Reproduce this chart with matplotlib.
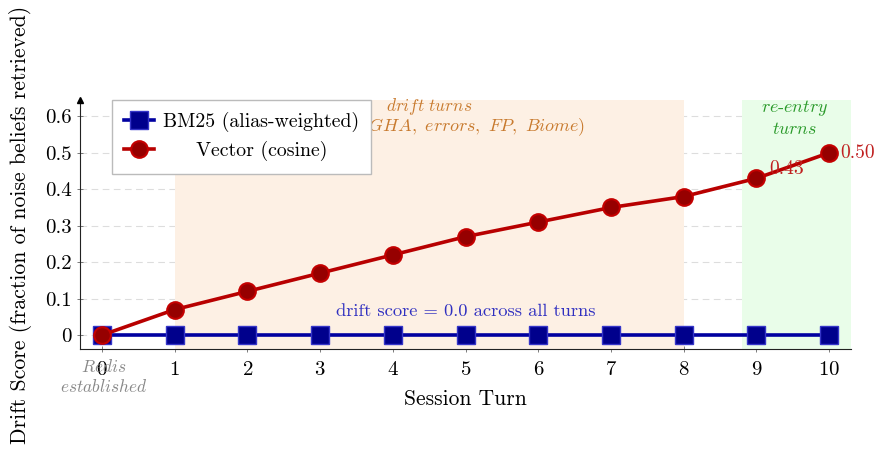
import numpy as np
import matplotlib
matplotlib.use("Agg")
from matplotlib import pyplot as plt

plt.rcParams['font.family'] = 'serif'
plt.rcParams['font.serif'] = ['cmr10']
plt.rcParams['mathtext.fontset'] = 'cm'
plt.rcParams['axes.formatter.use_mathtext'] = True

turns = [0, 1, 2, 3, 4, 5, 6, 7, 8, 9, 10]
bm25 = [0, 0, 0, 0, 0, 0, 0, 0, 0, 0, 0]
vector = [0.0, 0.07, 0.12, 0.17, 0.22, 0.27, 0.31, 0.35, 0.38, 0.43, 0.50]
yticks = [0, 0.1, 0.2, 0.3, 0.4, 0.5, 0.6]
ytick_labels = ['0', '0.1', '0.2', '0.3', '0.4', '0.5', '0.6']
drift_span = (1, 8)
reentry_span = (8.8, 10.3)

fig = plt.figure(figsize=(8.81, 4.5), dpi=100)
ax = fig.add_axes([0.0908, 0.2244, 0.8752, 0.5536])
ax.set_xlim(-0.3, 10.3)
ax.set_ylim(-0.038, 0.645)

# shaded regions (drawn over the bottom spine like the original)
ax.axvspan(*drift_span, ymin=0, ymax=1, color='#fdf0e4', zorder=2.5, lw=0)
ax.axvspan(*reentry_span, ymin=0, ymax=1, color='#e9fde9', zorder=2.5, lw=0)

for y in yticks:
    ax.axhline(y, color='#dddddd', lw=0.8, ls=(0, (6, 4)), zorder=1)

ax.plot(turns, bm25, color='#0000a0', lw=2.6, marker='s', markersize=12.5,
        markerfacecolor='#00008c', markeredgecolor='#3535c8', markeredgewidth=1.0,
        label='BM25 (alias-weighted)', zorder=4)
ax.plot(turns, vector, color='#b80000', lw=2.6, marker='o', markersize=12,
        markerfacecolor='#960000', markeredgecolor='#c40000', markeredgewidth=1.5,
        label='     Vector (cosine)', zorder=5)

ax.spines['top'].set_visible(False)
ax.spines['right'].set_visible(False)
ax.spines['left'].set_color('#222222')
ax.spines['bottom'].set_color('#222222')
ax.plot(0, 1, '^k', ms=4, transform=ax.transAxes, clip_on=False, zorder=6)

ax.set_xticks(turns)
ax.set_yticks(yticks)
ax.set_yticklabels(ytick_labels)
ax.tick_params(axis='both', direction='inout', length=5, width=0.6,
               color='#666666', labelsize=15)
ax.tick_params(axis='x', pad=6)

ax.set_xlabel('Session Turn', fontsize=15.5, labelpad=8)
ax.set_ylabel('Drift Score (fraction of noise beliefs retrieved)', fontsize=15.7, labelpad=9)

orange = '#c87a2e'
ax.text(4.5, 0.627, r'$\mathit{drift\ turns}$', color=orange, fontsize=12.5,
        ha='center', va='center', zorder=3)
ax.text(6.65, 0.572, r'$\mathit{(Redis,\ CI/CD,\ GHA,\ errors,\ FP,\ Biome)}$', color=orange,
        fontsize=13, ha='right', va='center', zorder=3)
green = '#2a9a2a'
ax.text(9.52, 0.622, r'$\mathit{re}$-$\mathit{entry}$', color=green, fontsize=13,
        ha='center', va='center', zorder=3)
ax.text(9.52, 0.566, r'$\mathit{turns}$', color=green, fontsize=13,
        ha='center', va='center', zorder=3)
ax.text(5.0, 0.066, 'drift score = 0.0 across all turns', color='#3030c0',
        fontsize=13.3, ha='center', va='center', zorder=6)
ax.text(9.42, 0.455, '0.43', color='#c02020', fontsize=14, ha='center', va='center', zorder=6)
ax.text(10.15, 0.50, '0.50', color='#c02020', fontsize=14, ha='left', va='center', zorder=6,
        clip_on=False)
ax.text(0.02, -0.085, r'$\mathit{Redis}$', color='#888888', fontsize=12.5,
        ha='center', va='center', clip_on=False)
ax.text(0.02, -0.14, r'$\mathit{established}$', color='#888888', fontsize=12.5,
        ha='center', va='center', clip_on=False)

leg = ax.legend(loc='upper left', bbox_to_anchor=(0.0415, 1.0), borderaxespad=0,
                fontsize=14.3, frameon=True, fancybox=False, edgecolor='#bbbbbb',
                framealpha=1, handlelength=1.5, handletextpad=0.45,
                borderpad=0.62, labelspacing=0.45)
leg.set_zorder(7)

fig.savefig('out.png', dpi=100)
